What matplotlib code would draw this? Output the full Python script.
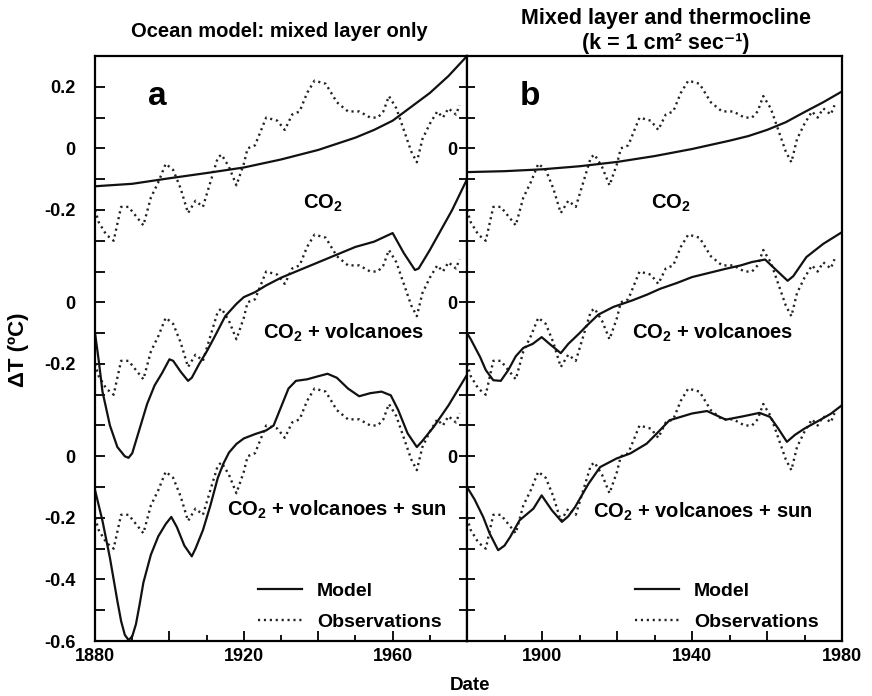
import matplotlib
matplotlib.use("Agg")
import matplotlib.pyplot as plt
from matplotlib.lines import Line2D
from matplotlib.ticker import FixedFormatter, FixedLocator

plt.rcParams['font.family'] = ['Liberation Sans', 'DejaVu Sans']
plt.rcParams['font.weight'] = 'bold'
plt.rcParams['mathtext.fontset'] = 'custom'
plt.rcParams['mathtext.rm'] = 'Liberation Sans:bold'
plt.rcParams['mathtext.bf'] = 'Liberation Sans:bold'
plt.rcParams['mathtext.it'] = 'Liberation Sans:bold'

# observed temperature anomaly (same in every curve set)
obs_years = [1880, 1881, 1883, 1885, 1887, 1889, 1891, 1893, 1895, 1897, 1899, 1901,
             1903, 1905, 1907, 1909, 1911, 1913, 1914, 1916, 1918, 1920, 1921, 1923,
             1925, 1926, 1929, 1931, 1933, 1935, 1937, 1939, 1942, 1945, 1948, 1951,
             1954, 1956, 1957.5, 1959, 1961, 1963, 1965, 1966.5, 1968, 1970, 1972,
             1973.5, 1975, 1977, 1978]
obs_vals = [-0.20, -0.24, -0.28, -0.30, -0.19, -0.19, -0.22, -0.25, -0.16, -0.11, -0.05, -0.07,
            -0.13, -0.21, -0.17, -0.19, -0.11, -0.03, -0.02, -0.06, -0.12, -0.05, 0.00, 0.01,
            0.07, 0.10, 0.09, 0.06, 0.11, 0.12, 0.18, 0.22, 0.21, 0.15, 0.12, 0.12,
            0.10, 0.10, 0.12, 0.17, 0.13, 0.06, -0.01, -0.045, 0.03, 0.08, 0.12,
            0.10, 0.13, 0.11, 0.14]

# panel a: mixed layer only
a_co2_years = [1880, 1890, 1900, 1910, 1920, 1930, 1940, 1950, 1955, 1960, 1965, 1970, 1975, 1980]
a_co2 = [-0.123, -0.115, -0.097, -0.08, -0.062, -0.036, -0.005, 0.035, 0.06, 0.09, 0.135, 0.18, 0.235, 0.30]

a_volc_years = [1880, 1881, 1882, 1884, 1886, 1888, 1889, 1890, 1891, 1892, 1894, 1896, 1898,
                1900, 1901, 1903, 1905, 1906, 1908, 1910, 1912, 1915, 1918, 1920, 1923, 1926,
                1930, 1935, 1940, 1945, 1950, 1955, 1960, 1963, 1966, 1967, 1970, 1973, 1976, 1980]
a_volc = [-0.10, -0.19, -0.29, -0.40, -0.47, -0.50, -0.505, -0.49, -0.45, -0.41, -0.33, -0.27, -0.23,
          -0.185, -0.19, -0.225, -0.255, -0.245, -0.20, -0.16, -0.115, -0.045, -0.005, 0.017, 0.033, 0.055,
          0.08, 0.105, 0.13, 0.155, 0.18, 0.197, 0.225, 0.16, 0.105, 0.11, 0.17, 0.235, 0.30, 0.40]

a_sun_years = [1880, 1882, 1884, 1885, 1886, 1887, 1888, 1889, 1890, 1891, 1892, 1893, 1895, 1897,
               1899, 1900.5, 1902, 1904, 1906, 1907, 1909, 1911, 1913, 1914.5, 1916, 1918, 1920,
               1923, 1926, 1928, 1930, 1932, 1934, 1937, 1940, 1942.5, 1945, 1948, 1951, 1954,
               1957, 1959.5, 1961.5, 1964, 1966.5, 1968, 1971, 1975, 1980]
a_sun = [-0.11, -0.21, -0.33, -0.40, -0.47, -0.535, -0.58, -0.597, -0.585, -0.545, -0.48, -0.41, -0.32, -0.26,
         -0.22, -0.197, -0.23, -0.29, -0.325, -0.30, -0.24, -0.16, -0.07, -0.024, 0.012, 0.04, 0.058,
         0.072, 0.084, 0.10, 0.16, 0.22, 0.245, 0.25, 0.26, 0.268, 0.255, 0.22, 0.195, 0.205,
         0.21, 0.198, 0.15, 0.075, 0.03, 0.05, 0.095, 0.165, 0.265]

# panel b: mixed layer and thermocline
b_co2_years = [1880, 1890, 1900, 1910, 1920, 1930, 1940, 1950, 1955, 1960, 1965, 1970, 1975, 1980]
b_co2 = [-0.077, -0.074, -0.068, -0.058, -0.044, -0.025, -0.002, 0.025, 0.04, 0.06, 0.085, 0.118, 0.15, 0.185]

b_volc_years = [1880, 1881, 1883.5, 1885, 1887, 1889, 1891, 1893, 1895, 1897.5, 1899.9, 1902, 1905,
                1907, 1910, 1912, 1915, 1919, 1924, 1928, 1931.5, 1936, 1940, 1945, 1949, 1953,
                1956, 1959.5, 1962, 1965.5, 1967, 1970.5, 1975, 1980]
b_volc = [-0.10, -0.12, -0.178, -0.22, -0.253, -0.255, -0.22, -0.175, -0.148, -0.135, -0.113, -0.135, -0.165,
          -0.135, -0.10, -0.075, -0.04, -0.015, 0.006, 0.025, 0.044, 0.063, 0.082, 0.097, 0.109, 0.12,
          0.131, 0.139, 0.11, 0.07, 0.085, 0.147, 0.19, 0.228]

b_sun_years = [1880, 1882, 1884.3, 1886, 1888.3, 1890, 1891.5, 1894, 1897.7, 1899.9, 1902.6, 1905.3,
               1907, 1908.8, 1912.4, 1915.5, 1919.9, 1923.5, 1927.9, 1930.6, 1934, 1940, 1944, 1949,
               1953.7, 1958, 1960.8, 1963, 1965.3, 1967.5, 1970, 1974, 1977, 1980]
b_sun = [-0.10, -0.14, -0.197, -0.25, -0.305, -0.29, -0.262, -0.208, -0.17, -0.127, -0.175, -0.213,
         -0.195, -0.165, -0.089, -0.035, -0.007, 0.009, 0.041, 0.074, 0.117, 0.139, 0.147, 0.119,
         0.13, 0.141, 0.128, 0.09, 0.047, 0.07, 0.09, 0.117, 0.138, 0.166]

offsets = [1.0, 0.5, 0.0]   # vertical shift of the three curve sets
labels = ['CO$_2$', 'CO$_2$ + volcanoes', 'CO$_2$ + volcanoes + sun']

ytick_pos = [-0.6, -0.4, -0.2, 0.0, 0.3, 0.5, 0.8, 1.0, 1.2]
ytick_lab = ['-0.6', '-0.4', '-0.2', '0', '-0.2', '0', '-0.2', '0', '0.2']

yticks_all = [round(-0.6 + 0.1 * i, 1) for i in range(19)]
lab_a = {round(p, 1): l for p, l in zip(ytick_pos, ytick_lab)}
lab_b = {0.0: '0', 0.5: '0', 1.0: '0'}

fig = plt.figure(figsize=(8.72, 6.96), dpi=100)
axa = fig.add_axes([0.109, 0.079, 0.4266, 0.8405])
axb = fig.add_axes([0.5356, 0.079, 0.430, 0.8405])

obs_style = dict(color='#222222', lw=1.7, linestyle=(0, (0.9, 1.6)))
mod_style = dict(color='#111111', lw=1.6)

panels = [
    (axa, [(a_co2_years, a_co2), (a_volc_years, a_volc), (a_sun_years, a_sun)], 'a',
     [(0.613, 0.749), (0.667, 0.526), (0.65, 0.224)], 0.39, lab_a),
    (axb, [(b_co2_years, b_co2), (b_volc_years, b_volc), (b_sun_years, b_sun)], 'b',
     [(0.544, 0.749), (0.656, 0.526), (0.63, 0.22)], 0.40, lab_b),
]

for ax, models, letter, label_pos, leg_x, ylabs in panels:
    for (yrs, vals), off, lab, (tx, ty) in zip(models, offsets, labels, label_pos):
        ax.plot(obs_years, [v + off for v in obs_vals], **obs_style)
        ax.plot(yrs, [v + off for v in vals], **mod_style)
        ax.text(tx, ty, lab, transform=ax.transAxes, ha='center', va='center',
                fontsize=14.5, fontweight='bold')
    ax.text(0.168, 0.93, letter, transform=ax.transAxes, ha='center', va='center',
            fontsize=24, fontweight='bold')
    ax.set_xlim(1880, 1980)
    ax.set_ylim(-0.6, 1.3)
    for s in ax.spines.values():
        s.set_linewidth(1.6)
    ax.yaxis.set_major_locator(FixedLocator(yticks_all))
    ax.yaxis.set_major_formatter(FixedFormatter([ylabs.get(p, '') for p in yticks_all]))
    ax.set_xticks([1880, 1900, 1920, 1940, 1960, 1980])
    ax.set_xticks([1890, 1910, 1930, 1950, 1970], minor=True)
    ax.tick_params(axis='x', which='major', direction='in', length=7, width=1.3, pad=5,
                   labelsize=13)
    ax.tick_params(axis='x', which='minor', direction='in', length=4, width=1.3)
    handles = [Line2D([], [], **mod_style), Line2D([], [], **obs_style)]
    ax.legend(handles, ['Model', 'Observations'], loc='lower left',
              bbox_to_anchor=(leg_x, -0.012), frameon=False, handlelength=2.3,
              handletextpad=0.75, labelspacing=0.65,
              prop={'size': 14, 'weight': 'bold'})

axa.tick_params(axis='y', direction='in', length=7, width=1.3, pad=14, labelsize=13)
axa.set_xticklabels(['1880', '', '1920', '', '1960', ''])

# panel b: ticks cross the divider, only the zeros are labelled
axb.tick_params(axis='y', direction='inout', length=12, width=1.3, pad=1, labelsize=13)
axb.set_xticklabels(['', '1900', '', '1940', '', '1980'])

fig.text(0.32, 0.955, 'Ocean model: mixed layer only', ha='center', va='center',
         fontsize=14.5, fontweight='bold')
fig.text(0.764, 0.974, 'Mixed layer and thermocline', ha='center', va='center',
         fontsize=15.5, fontweight='bold')
fig.text(0.764, 0.938, '(k = 1 cm² sec⁻¹)', ha='center', va='center',
         fontsize=15.5, fontweight='bold')
fig.text(0.021, 0.497, 'ΔT (ºC)', rotation=90, ha='center', va='center',
         fontsize=16, fontweight='bold')
fig.text(0.539, 0.015, 'Date', ha='center', va='center', fontsize=13.5, fontweight='bold')

fig.savefig('out.png', dpi=100)
